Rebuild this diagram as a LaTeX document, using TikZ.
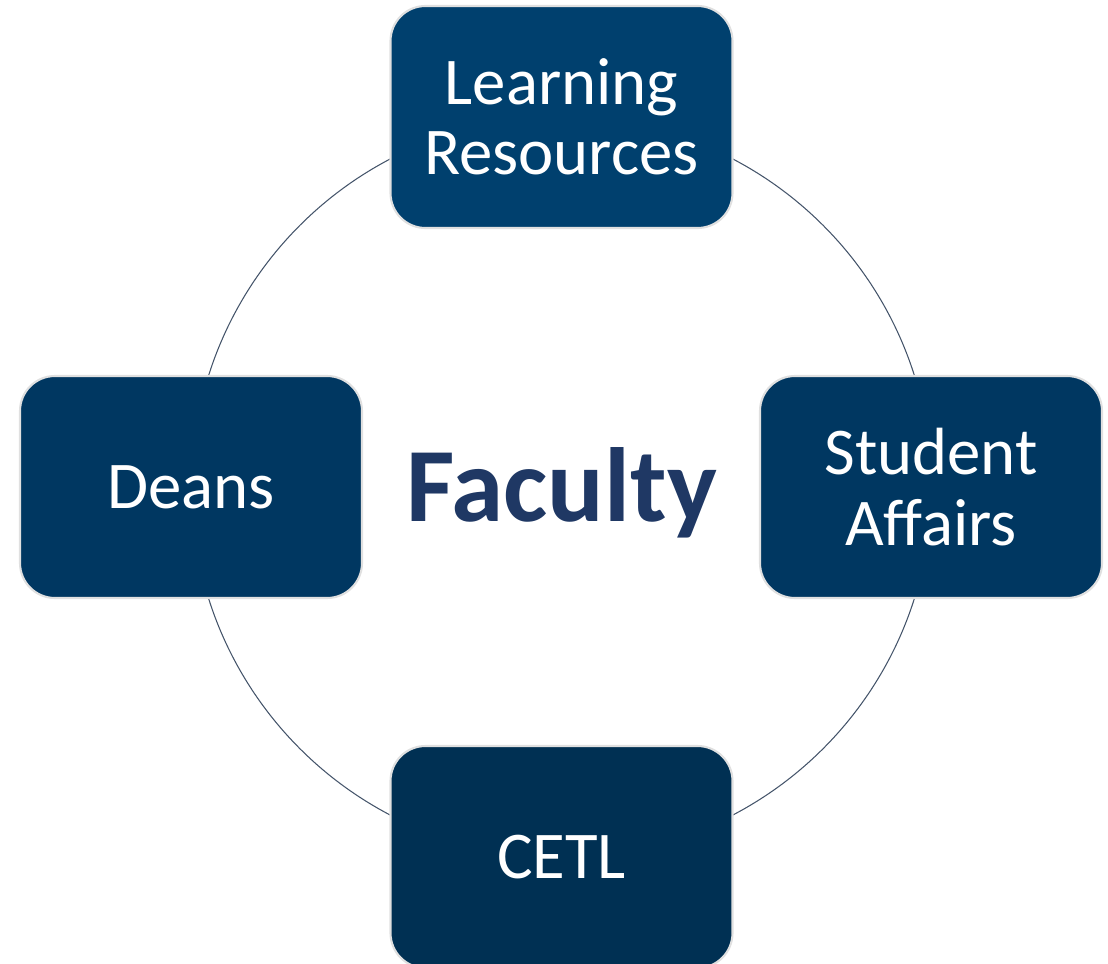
\documentclass[tikz,border=0pt]{standalone}
\usepackage{fontspec}
\setmainfont{Carlito}
\definecolor{unitTop}{HTML}{00406E}
\definecolor{unitSide}{HTML}{003761}
\definecolor{unitLow}{HTML}{003053}
\definecolor{ringLine}{HTML}{44546A}
\definecolor{hubText}{HTML}{1F3864}
\tikzset{
  unit/.style={draw=black!12, line width=1.2pt, rounded corners=0.7cm,
    minimum width=6.84cm, minimum height=4.44cm, text=white,
    align=center, font=\fontsize{38}{40}\selectfont},
  hub/.style={text=hubText, font=\fontsize{60}{63}\selectfont\bfseries}
}
\begin{document}
\begin{tikzpicture}
  \useasboundingbox (0,0) rectangle (22.16,-19.28);
  % ring behind the units
  \coordinate (centre) at (11.23,-9.74);
  \draw[ringLine, line width=0.6pt] (centre) circle (7.4);
  % units
  \node[unit, fill=unitTop] (learning) at (11.23,-2.34) {Learning\\Resources};
  \node[unit, fill=unitSide] (deans) at (3.82,-9.74) {Deans};
  \node[unit, fill=unitSide] (affairs) at (18.62,-9.74) {Student\\Affairs};
  \node[unit, fill=unitLow] (cetl) at (11.23,-17.14) {CETL};
  % centre label
  \node[hub, anchor=base] (faculty) at (11.23,-10.42) {Faculty};
\end{tikzpicture}
\end{document}
